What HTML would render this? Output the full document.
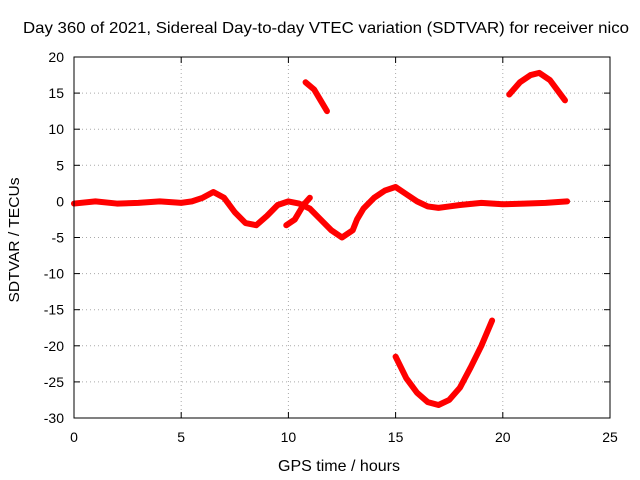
<!DOCTYPE html>
<html><head><meta charset="utf-8"><style>
body{margin:0;background:#fff}
svg{display:block;font-family:"Liberation Sans",sans-serif;font-size:14px}
</style></head><body>
<svg id="chart" width="640" height="480">
<text x="326" y="33" text-anchor="middle" font-size="16" textLength="606" lengthAdjust="spacingAndGlyphs">Day 360 of 2021, Sidereal Day-to-day VTEC variation (SDTVAR) for receiver nico</text>
<text transform="translate(19,240) rotate(-90)" text-anchor="middle" font-size="15" textLength="125" lengthAdjust="spacingAndGlyphs">SDTVAR / TECUs</text>
<text x="339" y="471" text-anchor="middle" font-size="16" textLength="122" lengthAdjust="spacingAndGlyphs">GPS time / hours</text>
<g id="grid"></g><g id="axes"></g><g id="series"></g>
<rect x="74" y="57" width="536" height="361" fill="none" stroke="#000" stroke-width="1"/>
</svg>
<script>
const xTicks=[0,5,10,15,20,25];
const yTicks=[20,15,10,5,0,-5,-10,-15,-20,-25,-30];
const mainX=[0,1,2,3,4,5,5.5,6,6.5,7,7.5,8,8.5,9,9.5,10,10.5,11,11.5,12,12.5,13,13.2,13.5,14,14.5,15,15.5,16,16.5,17,17.5,18,19,20,21,22,23];
const mainY=[-0.3,0,-0.3,-0.2,0,-0.2,0,0.5,1.3,0.5,-1.5,-3,-3.3,-2,-0.5,0,-0.3,-1,-2.5,-4,-5,-4,-2.5,-1,0.5,1.5,2,1,0,-0.7,-0.9,-0.7,-0.5,-0.2,-0.4,-0.3,-0.2,0];
const bumpX=[9.9,10.3,10.7,11];
const bumpY=[-3.3,-2.5,-0.5,0.5];
const topX=[10.8,11.2,11.5,11.8];
const topY=[16.5,15.5,14,12.5];
const rightX=[20.3,20.8,21.3,21.7,22.2,22.6,22.9];
const rightY=[14.8,16.5,17.5,17.8,16.8,15.2,14];
const lowX=[15,15.5,16,16.5,17,17.5,18,18.5,19,19.5];
const lowY=[-21.5,-24.5,-26.5,-27.8,-28.2,-27.5,-25.8,-23,-20,-16.5];
const NS="http://www.w3.org/2000/svg";
const sx=v=>74+v*536/25, sy=v=>57+(20-v)*361/50;
function mk(t,a,p){const e=document.createElementNS(NS,t);for(const k in a)e.setAttribute(k,a[k]);p.appendChild(e);return e;}
const g=document.getElementById('grid'),ax=document.getElementById('axes'),s=document.getElementById('series');
xTicks.forEach(v=>{const x=sx(v);
 if(v>0&&v<25){const l=mk('line',{x1:x,x2:x,y1:57,y2:418,stroke:'#aaa','stroke-dasharray':'1,3'},g);
 
 }
 mk('line',{x1:x,x2:x,y1:418,y2:412,stroke:'#000'},ax);mk('line',{x1:x,x2:x,y1:57,y2:63,stroke:'#000'},ax);
 const t=mk('text',{x:x,y:442,'text-anchor':'middle'},ax);t.textContent=v;
 
 });
yTicks.forEach(v=>{const y=sy(v);
 if(v<20&&v>-30){const l=mk('line',{x1:74,x2:610,y1:y,y2:y,stroke:'#aaa','stroke-dasharray':'1,3'},g);
 
 }
 mk('line',{x1:74,x2:80,y1:y,y2:y,stroke:'#000'},ax);mk('line',{x1:610,x2:604,y1:y,y2:y,stroke:'#000'},ax);
 const t=mk('text',{x:64,y:y+5,'text-anchor':'end'},ax);t.textContent=v;
 
 });
[[mainX,mainY,'series-main'],[bumpX,bumpY,'series-bump'],[topX,topY,'series-top'],[rightX,rightY,'series-right'],[lowX,lowY,'series-low']].forEach(([X,Y,n])=>{
 const p=mk('polyline',{points:X.map((x,i)=>sx(x)+','+sy(Y[i])).join(' '),fill:'none',stroke:'#f00','stroke-width':6,'stroke-linejoin':'round','stroke-linecap':'round'},s);
 
 });
</script>
</body></html>
